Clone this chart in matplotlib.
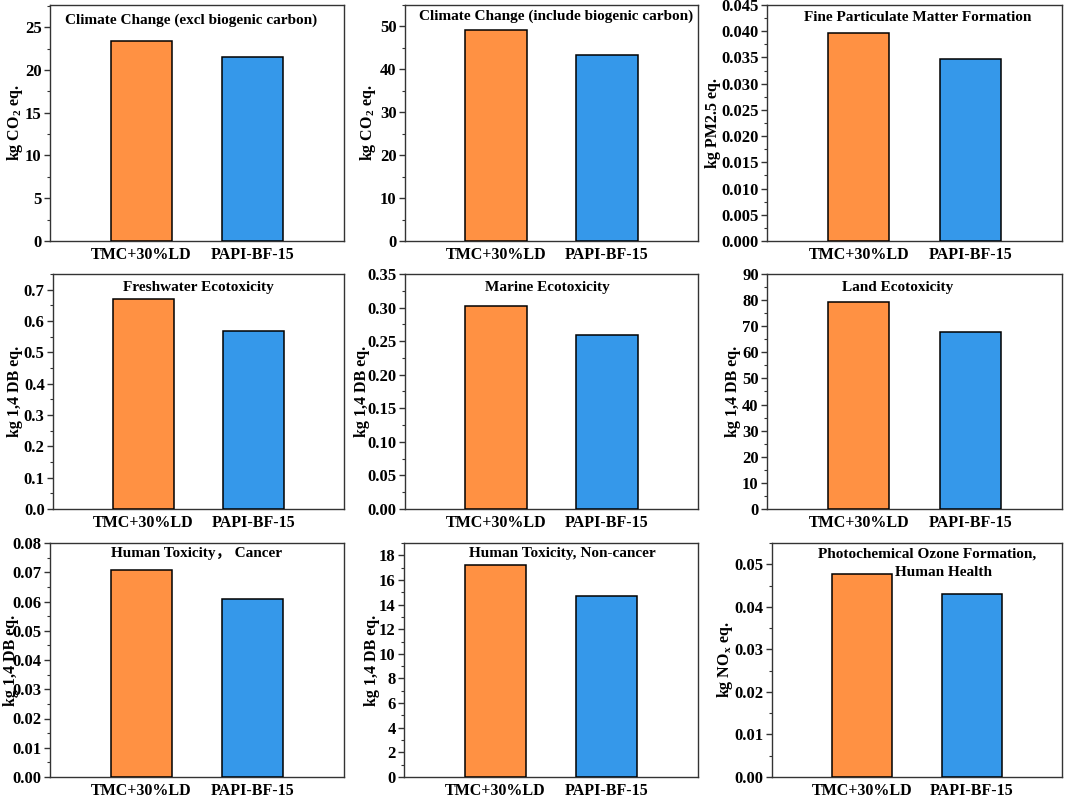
import matplotlib
matplotlib.use("Agg")
import matplotlib.pyplot as plt
from matplotlib.ticker import MultipleLocator, AutoMinorLocator, FormatStrFormatter

plt.rcParams['font.family'] = ['Liberation Serif', 'Noto Sans CJK SC', 'DejaVu Serif']
plt.rcParams['font.weight'] = 'bold'
plt.rcParams['mathtext.fontset'] = 'custom'
plt.rcParams['mathtext.rm'] = 'Liberation Serif:bold'
plt.rcParams['mathtext.it'] = 'Liberation Serif:bold'
plt.rcParams['mathtext.bf'] = 'Liberation Serif:bold'

# data
scenarios = ['TMC+30%LD', 'PAPI-BF-15']
titles = ['Climate Change (excl biogenic carbon)',
          'Climate Change (include biogenic carbon)',
          'Fine Particulate Matter Formation',
          'Freshwater Ecotoxicity',
          'Marine Ecotoxicity',
          'Land Ecotoxicity',
          'Human Toxicity\uff0c Cancer',
          'Human Toxicity, Non-cancer',
          'Photochemical Ozone Formation,']
title2_p9 = 'Human Health'
units = ['kg CO$_2$ eq.', 'kg CO$_2$ eq.', 'kg PM2.5 eq.',
         'kg 1,4 DB eq.', 'kg 1,4 DB eq.', 'kg 1,4 DB eq.',
         'kg 1,4 DB eq.', 'kg 1,4 DB eq.', 'kg NO$_\\mathrm{x}$ eq.']
tmc_vals = [23.4, 49.2, 0.0397, 0.670, 0.303, 79.1, 0.0707, 17.25, 0.0477]
papi_vals = [21.5, 43.4, 0.0347, 0.568, 0.259, 67.6, 0.0610, 14.68, 0.0430]
y_max = [27.6, 55, 0.045, 0.75, 0.35, 90, 0.08, 19, 0.055]
y_step = [5, 10, 0.005, 0.1, 0.05, 10, 0.01, 2, 0.01]
y_fmt = ['%d', '%d', '%.3f', '%.1f', '%.2f', '%d', '%.2f', '%d', '%.2f']

# layout (pixels in a 1065x799 canvas)
W, H = 1065, 799
lefts = [50, 405, 767, 53, 405, 767, 50, 404, 772]
rights = [344, 698, 1062]
tops = [5, 274, 543]
bottoms = [241, 509, 777]
ylabel_px = [15, 368, 713, 15, 362, 733, 11, 372, 725]   # label centres
title_x = [0.48, 0.515, 0.51, 0.50, 0.486, 0.444, 0.50, 0.54, 0.534]
title_y = [0.936, 0.952, 0.946, 0.943, 0.943, 0.943, 0.953, 0.953, 0.954]

orange = '#FF9143'
blue = '#3598EA'

fig = plt.figure(figsize=(W / 100, H / 100), dpi=100)

for i in range(9):
    r, c = divmod(i, 3)
    l = lefts[i]
    rgt = rights[c]
    t = tops[r]
    b = bottoms[r]
    ax = fig.add_axes([l / W, 1 - b / H, (rgt - l) / W, (b - t) / H])
    ax.bar([0, 1], [tmc_vals[i], papi_vals[i]], width=0.55,
           color=[orange, blue], edgecolor='black', linewidth=1.1, zorder=3)
    ax.set_xlim(-0.82, 1.82)
    ax.set_ylim(0, y_max[i])
    ax.set_xticks([0, 1])
    ax.set_xticklabels(scenarios, fontsize=11.5, fontweight='bold')
    ax.yaxis.set_major_locator(MultipleLocator(y_step[i]))
    ax.yaxis.set_minor_locator(AutoMinorLocator(2))
    ax.yaxis.set_major_formatter(FormatStrFormatter(y_fmt[i]))
    ax.tick_params(axis='y', which='major', direction='out', length=4,
                   width=1, labelsize=12, pad=2, color='#333333')
    ax.tick_params(axis='y', which='minor', direction='out', length=2,
                   width=0.8, color='#333333')
    ax.tick_params(axis='x', length=0, pad=4)
    for lab in ax.get_yticklabels():
        lab.set_fontweight('bold')
    for sp in ax.spines.values():
        sp.set_color('#333333')
        sp.set_linewidth(1.0)
    ax.set_ylabel(units[i], fontsize=11.5, fontweight='bold')
    ax.yaxis.label.set_verticalalignment('center')
    ax.yaxis.set_label_coords((ylabel_px[i] - l) / (rgt - l), 0.5)
    ax.text(title_x[i], title_y[i], titles[i], transform=ax.transAxes,
            ha='center', va='center', fontsize=11, fontweight='bold', zorder=5)
    if i == 8:
        ax.text(0.59, 0.872, title2_p9, transform=ax.transAxes,
                ha='center', va='center', fontsize=11, fontweight='bold', zorder=5)

fig.savefig('out.png', dpi=100)
